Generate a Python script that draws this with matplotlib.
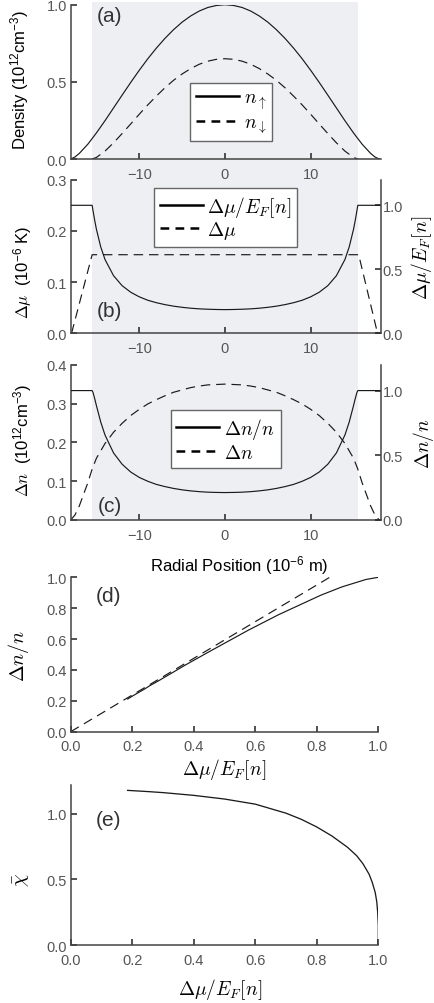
import matplotlib
matplotlib.use("Agg")
import matplotlib.pyplot as plt
from matplotlib.lines import Line2D
from matplotlib.patches import Rectangle
from matplotlib.transforms import blended_transform_factory

plt.rcParams['font.family'] = ['Liberation Sans', 'DejaVu Sans']
plt.rcParams['mathtext.fontset'] = 'cm'

# ---- data ----
# (a) spin densities vs radial position
x_up = [-18, -17.5, -17, -16, -15, -14, -13, -12, -11, -10, -9, -8, -7, -6, -5, -4, -3, -2, -1, 0,
        1, 2, 3, 4, 5, 6, 7, 8, 9, 10, 11, 12, 13, 14, 15, 16, 17, 17.5, 18]
n_up = [0.0, 0.013, 0.036, 0.096, 0.169, 0.248, 0.331, 0.414, 0.496, 0.575, 0.650, 0.719, 0.782,
        0.838, 0.887, 0.927, 0.959, 0.982, 0.995, 1.0,
        0.995, 0.982, 0.959, 0.927, 0.887, 0.838, 0.782, 0.719, 0.650, 0.575, 0.496, 0.414, 0.331,
        0.248, 0.169, 0.096, 0.036, 0.013, 0.0]
x_dn = [-15.5, -15, -14, -13, -12, -11, -10, -9, -8, -7, -6, -5, -4, -3, -2, -1, 0,
        1, 2, 3, 4, 5, 6, 7, 8, 9, 10, 11, 12, 13, 14, 15, 15.5]
n_dn = [0.0, 0.010, 0.051, 0.105, 0.165, 0.227, 0.290, 0.351, 0.408, 0.462, 0.510, 0.551, 0.586,
        0.614, 0.634, 0.646, 0.650,
        0.646, 0.634, 0.614, 0.586, 0.551, 0.510, 0.462, 0.408, 0.351, 0.290, 0.227, 0.165, 0.105,
        0.051, 0.010, 0.0]

# (b) chemical potential difference
x_dmu = [-17.9, -15.5, 15.6, 17.8]
dmu = [0.0, 0.1535, 0.1535, 0.0]
x_ratio = [-18.0, -15.5, -15.4, -15.2, -15, -14.5, -14, -13, -12, -11, -10, -9, -8, -7, -6, -5, -4,
           -3, -2, -1, 0, 1, 2, 3, 4, 5, 6, 7, 8, 9, 10, 11, 12, 13, 14, 14.5, 15, 15.2, 15.4,
           15.5, 18.17]
dmu_ef = [1.0, 1.0, 0.960, 0.882, 0.813, 0.676, 0.577, 0.450, 0.372, 0.321, 0.285, 0.258, 0.239,
          0.224, 0.212, 0.203, 0.196, 0.191, 0.188, 0.186, 0.185,
          0.186, 0.188, 0.191, 0.196, 0.203, 0.212, 0.224, 0.239, 0.258, 0.285, 0.321, 0.372,
          0.450, 0.577, 0.676, 0.813, 0.882, 0.960, 1.0, 1.0]

# (c) density difference
x_dn2 = [-18, -17.5, -17, -16, -15.5, -15, -14, -13, -12, -11, -10, -9, -8, -7, -6, -5, -4, -3,
         -2, -1, 0, 1, 2, 3, 4, 5, 6, 7, 8, 9, 10, 11, 12, 13, 14, 15, 15.5, 16, 17, 17.5, 18]
delta_n = [0.0, 0.013, 0.036, 0.096, 0.131, 0.159, 0.197, 0.226, 0.249, 0.269, 0.285, 0.299,
           0.310, 0.320, 0.329, 0.335, 0.341, 0.345, 0.348, 0.349, 0.350,
           0.349, 0.348, 0.345, 0.341, 0.335, 0.329, 0.320, 0.310, 0.299, 0.285, 0.269, 0.249,
           0.226, 0.197, 0.159, 0.131, 0.096, 0.036, 0.013, 0.0]
# polarization, on the same radial grid as dmu_ef
dn_n = [1.0, 1.0, 0.986, 0.938, 0.884, 0.758, 0.657, 0.518, 0.431, 0.371, 0.329, 0.299, 0.275,
        0.258, 0.244, 0.233, 0.225, 0.219, 0.215, 0.213, 0.212,
        0.213, 0.215, 0.219, 0.225, 0.233, 0.244, 0.258, 0.275, 0.299, 0.329, 0.371, 0.431,
        0.518, 0.657, 0.758, 0.884, 0.938, 0.986, 1.0, 1.0]

# (d) polarization vs local dmu/EF
d_mu = [0.185, 0.188, 0.196, 0.212, 0.239, 0.258, 0.285, 0.321, 0.372, 0.450, 0.577, 0.676,
        0.813, 0.882, 0.960, 1.0]
d_pol = [0.212, 0.215, 0.225, 0.244, 0.275, 0.299, 0.329, 0.371, 0.431, 0.518, 0.657, 0.758,
         0.884, 0.938, 0.986, 1.0]
d_mu_lin = [0.0, 0.842]
d_pol_lin = [0.0, 1.0]

# (e) normalized susceptibility
e_mu = [0.185, 0.25, 0.3, 0.4, 0.5, 0.6, 0.7, 0.75, 0.8, 0.85, 0.9, 0.93, 0.95, 0.97, 0.98,
        0.99, 0.995, 0.998, 1.0, 1.0]
e_chi = [1.179, 1.170, 1.162, 1.141, 1.113, 1.074, 1.005, 0.958, 0.900, 0.830, 0.745, 0.680,
         0.620, 0.540, 0.480, 0.400, 0.330, 0.250, 0.150, 0.0]

W, H = 435, 1004
fig = plt.figure(figsize=(W / 100, H / 100), dpi=100)

LC = '#1a1a1a'
LW = 0.85
DASH = (8, 5)
TICKC = '#555555'


def px(x0, y_bot, w, h):
    return [x0 / W, 1 - y_bot / H, w / W, h / H]


def style(ax):
    for s in ['top', 'right']:
        ax.spines[s].set_visible(False)
    for s in ['left', 'bottom']:
        ax.spines[s].set_color('#444444')
        ax.spines[s].set_linewidth(1.1)
    ax.tick_params(direction='in', length=4, width=1.1, color='#222222',
                   labelsize=10.5, labelcolor=TICKC)
    ax.tick_params(axis='x', pad=5.5)
    ax.tick_params(axis='y', pad=2.5)
    ax.set_facecolor('none')


def style_twin(ax2):
    for s in ['top', 'left', 'bottom']:
        ax2.spines[s].set_visible(False)
    ax2.spines['right'].set_color('#444444')
    ax2.spines['right'].set_linewidth(1.1)
    ax2.tick_params(direction='in', length=4, width=1.1, color='#222222',
                    labelsize=10.5, labelcolor=TICKC, pad=1.5)


def legend(ax, handles, labels, anchor, lsp=0.15):
    leg = ax.legend(handles, labels, loc='center', bbox_to_anchor=anchor, fontsize=14,
                    frameon=True, fancybox=False, framealpha=1, edgecolor='#666666',
                    handlelength=2.2, handletextpad=0.25, borderpad=0.3, labelspacing=lsp,
                    borderaxespad=0)
    leg.get_frame().set_linewidth(1.0)
    return leg


h_solid = Line2D([], [], color='k', lw=1.8)
h_dash = Line2D([], [], color='k', lw=1.8, dashes=(3.5, 2.5))

XL = (-18.0, 18.17)

# ---- (a) ----
ax_a = fig.add_axes(px(70.7, 160, 310, 154.3))
style(ax_a)
ax_a.plot(x_up, n_up, color=LC, lw=LW)
ax_a.plot(x_dn, n_dn, color=LC, lw=LW, dashes=DASH)
ax_a.set_xlim(*XL)
ax_a.set_ylim(0, 1.0)
ax_a.set_xticks([-10, 0, 10])
ax_a.set_yticks([0, 0.5, 1.0])
ax_a.set_ylabel('Density (10$\\mathregular{^{12}}$cm$\\mathregular{^{-3}}$)', fontsize=12)
ax_a.yaxis.set_label_coords(-0.128, 0.52)
legend(ax_a, [h_solid, h_dash], [r'$n_\uparrow$', r'$n_\downarrow$'], (0.518, 0.305))

# gray band across (a)-(c)
tr = blended_transform_factory(ax_a.transData, fig.transFigure)
band = Rectangle((-15.5, 1 - 521 / H), 31.05, (521 - 3.3) / H, transform=tr,
                 facecolor='#eeeff2', edgecolor='none', zorder=-5)
fig.add_artist(band)

# ---- (b) ----
ax_b = fig.add_axes(px(70.7, 334.3, 310, 153.6))
style(ax_b)
ax_b.plot(x_dmu, dmu, color=LC, lw=LW, dashes=DASH)
ax_b.set_xlim(*XL)
ax_b.set_ylim(0, 0.3)
ax_b.set_xticks([-10, 0, 10])
ax_b.set_yticks([0, 0.1, 0.2, 0.3])
ax_b.set_ylabel(r'$\Delta\mu$  (10$\mathregular{^{-6}}$ K)', fontsize=12)
ax_b.yaxis.set_label_coords(-0.12, 0.406)
ax_b2 = ax_b.twinx()
style_twin(ax_b2)
ax_b2.plot(x_ratio, dmu_ef, color=LC, lw=LW)
ax_b2.set_xlim(*XL)
ax_b2.set_ylim(0, 1.2)
ax_b2.set_yticks([0, 0.5, 1.0])
ax_b2.set_ylabel(r'$\Delta\mu/E_F[n]$', fontsize=14)
ax_b2.yaxis.set_label_coords(1.092, 0.5)
legend(ax_b2, [h_solid, h_dash], [r'$\Delta\mu/E_F[n]$', r'$\Delta\mu$'], (0.5, 0.755), lsp=0.0)

# ---- (c) ----
ax_c = fig.add_axes(px(70.7, 521, 310, 155.3))
style(ax_c)
ax_c.plot(x_dn2, delta_n, color=LC, lw=LW, dashes=DASH)
ax_c.set_xlim(*XL)
ax_c.set_ylim(0, 0.4)
ax_c.set_xticks([-10, 0, 10])
ax_c.set_yticks([0, 0.1, 0.2, 0.3, 0.4])
ax_c.set_ylabel(r'$\Delta n$  (10$\mathregular{^{12}}$cm$\mathregular{^{-3}}$)', fontsize=12)
ax_c.yaxis.set_label_coords(-0.12, 0.52)
ax_c.set_xlabel('Radial Position (10$\\mathregular{^{-6}}$ m)', fontsize=12)
ax_c.xaxis.set_label_coords(0.543, -0.215)
ax_c2 = ax_c.twinx()
style_twin(ax_c2)
ax_c2.plot(x_ratio, dn_n, color=LC, lw=LW)
ax_c2.set_xlim(*XL)
ax_c2.set_ylim(0, 1.2)
ax_c2.set_yticks([0, 0.5, 1.0])
ax_c2.set_ylabel(r'$\Delta n/n$', fontsize=14)
ax_c2.yaxis.set_label_coords(1.098, 0.5)
legend(ax_c2, [h_solid, h_dash], [r'$\Delta n/n$', r'$\Delta n$'], (0.5, 0.52))

# ---- (d) ----
ax_d = fig.add_axes(px(70.7, 732.7, 307.6, 154.4))
style(ax_d)
ax_d.plot(d_mu, d_pol, color=LC, lw=LW)
ax_d.plot(d_mu_lin, d_pol_lin, color=LC, lw=LW, dashes=DASH)
ax_d.set_xlim(0, 1)
ax_d.set_ylim(0, 1)
ax_d.set_xticks([0, 0.2, 0.4, 0.6, 0.8, 1.0])
ax_d.set_yticks([0, 0.2, 0.4, 0.6, 0.8, 1.0])
ax_d.set_ylabel(r'$\Delta n/n$', fontsize=14.5)
ax_d.yaxis.set_label_coords(-0.13, 0.5)
ax_d.set_xlabel(r'$\Delta\mu/E_F[n]$', fontsize=14)
ax_d.xaxis.set_label_coords(0.5, -0.16)

# ---- (e) ----
ax_e = fig.add_axes(px(70.7, 946, 307.6, 160))
style(ax_e)
ax_e.plot(e_mu, e_chi, color=LC, lw=LW * 1.1)
ax_e.set_xlim(0, 1)
ax_e.set_ylim(0, 1.22)
ax_e.set_xticks([0, 0.2, 0.4, 0.6, 0.8, 1.0])
ax_e.set_yticks([0, 0.5, 1.0])
ax_e.set_ylabel(r'$\bar{\chi}$', fontsize=14.5)
ax_e.yaxis.set_label_coords(-0.125, 0.41)
ax_e.set_xlabel(r'$\Delta\mu/E_F[n]$', fontsize=14)
ax_e.xaxis.set_label_coords(0.485, -0.195)

# panel letters
for lab, (xp, yp) in zip(['(a)', '(b)', '(c)', '(d)', '(e)'],
                         [(110, 17), (109.5, 312), (109.5, 506), (108.5, 597), (108.5, 820)]):
    fig.text(xp / W, 1 - yp / H, lab, fontsize=15, color='#333333', ha='center', va='center')

fig.savefig('out.png', dpi=100)
